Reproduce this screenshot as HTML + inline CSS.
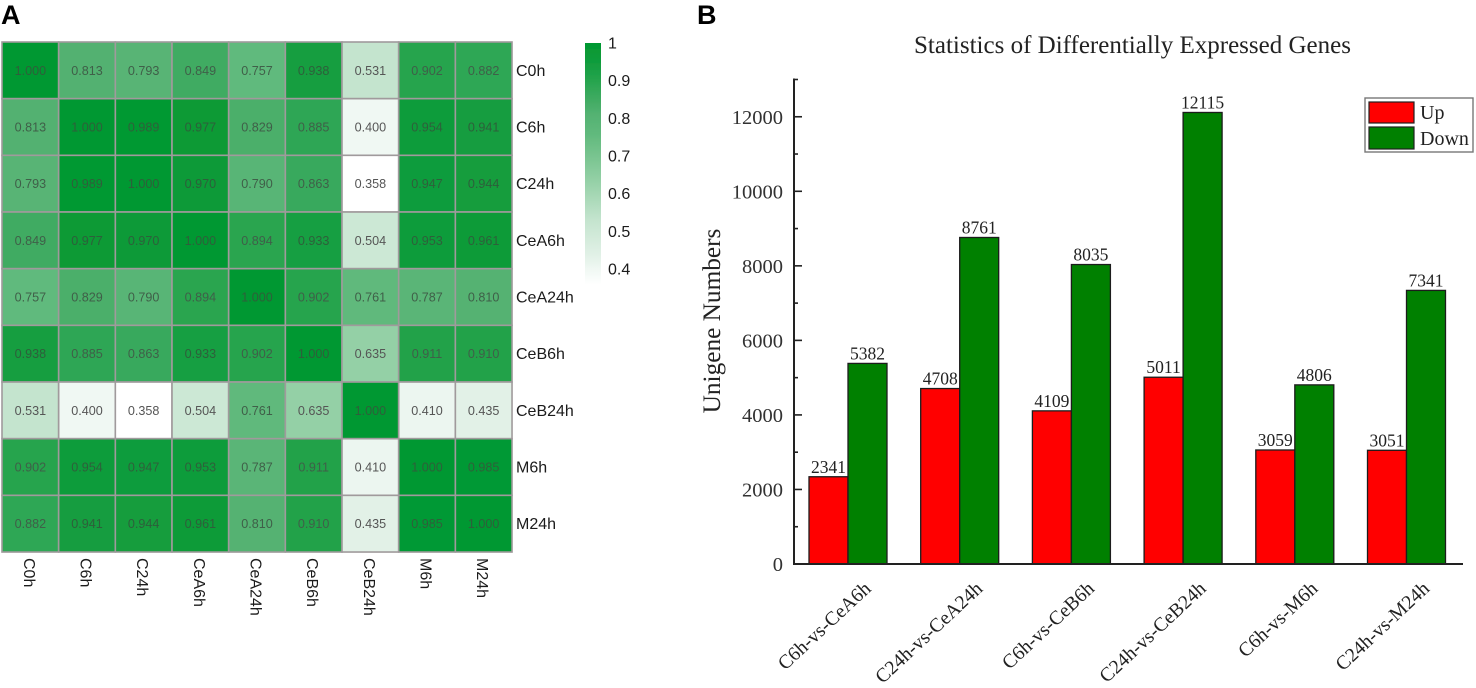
<!DOCTYPE html>
<html>
<head>
<meta charset="utf-8">
<title>Correlation heatmap and differentially expressed genes</title>
<style>
html,body{margin:0;padding:0;background:#fff;width:1476px;height:688px;overflow:hidden}
svg{display:block}
.sans{font-family:"Liberation Sans",sans-serif}
.serif{font-family:"Liberation Serif",serif}
</style>
</head>
<body>
<svg id="figure" width="1476" height="688" viewBox="0 0 1476 688" xmlns="http://www.w3.org/2000/svg">
  <defs>
    <linearGradient id="scale-gradient" x1="0" y1="0" x2="0" y2="1"></linearGradient>
    <filter id="soft" x="-2%" y="-2%" width="104%" height="104%"><feGaussianBlur stdDeviation="0.35"/></filter>
  </defs>
  <rect width="1476" height="688" fill="#fff"/>
  <g filter="url(#soft)">
    <text x="1" y="24" class="sans" font-size="27" font-weight="bold" fill="#000">A</text>
    <text x="697" y="24" class="sans" font-size="27" font-weight="bold" fill="#000">B</text>
    <g id="heatmap"></g>
    <g id="colorbar"></g>
    <g id="barchart"></g>
  </g>
</svg>
<script>
// Heatmap data
const sampleNames = ["C0h","C6h","C24h","CeA6h","CeA24h","CeB6h","CeB24h","M6h","M24h"];
const rowC0h   = [1.000,0.813,0.793,0.849,0.757,0.938,0.531,0.902,0.882];
const rowC6h   = [0.813,1.000,0.989,0.977,0.829,0.885,0.400,0.954,0.941];
const rowC24h  = [0.793,0.989,1.000,0.970,0.790,0.863,0.358,0.947,0.944];
const rowCeA6h = [0.849,0.977,0.970,1.000,0.894,0.933,0.504,0.953,0.961];
const rowCeA24h= [0.757,0.829,0.790,0.894,1.000,0.902,0.761,0.787,0.810];
const rowCeB6h = [0.938,0.885,0.863,0.933,0.902,1.000,0.635,0.911,0.910];
const rowCeB24h= [0.531,0.400,0.358,0.504,0.761,0.635,1.000,0.410,0.435];
const rowM6h   = [0.902,0.954,0.947,0.953,0.787,0.911,0.410,1.000,0.985];
const rowM24h  = [0.882,0.941,0.944,0.961,0.810,0.910,0.435,0.985,1.000];
const correlationRows = [rowC0h,rowC6h,rowC24h,rowCeA6h,rowCeA24h,rowCeB6h,rowCeB24h,rowM6h,rowM24h];
const scaleTicks = [1,0.9,0.8,0.7,0.6,0.5,0.4];

// Bar chart data
const comparisons = ["C6h-vs-CeA6h","C24h-vs-CeA24h","C6h-vs-CeB6h","C24h-vs-CeB24h","C6h-vs-M6h","C24h-vs-M24h"];
const upValues = [2341,4708,4109,5011,3059,3051];
const downValues = [5382,8761,8035,12115,4806,7341];
const yTickLabels = [0,2000,4000,6000,8000,10000,12000];
const yMinorTicks = [1000,3000,5000,7000,9000,11000,13000];

const NS = "http://www.w3.org/2000/svg";
function mk(parent, tag, attrs, txt){
  const e = document.createElementNS(NS, tag);
  for (const k in attrs) e.setAttribute(k, attrs[k]);
  if (txt !== undefined) e.textContent = txt;
  parent.appendChild(e);
  return e;
}

// Colour scale function (value -> colour)
const ramp = [
  [0.358,255,255,255],[0.40,240,248,243],[0.435,226,241,231],[0.53,196,228,206],
  [0.635,148,208,166],[0.70,120,196,143],[0.76,96,185,124],[0.81,84,178,114],
  [0.85,64,171,98],[0.90,38,164,78],[0.95,16,156,60],[1.0,2,152,48]
];
function colorOf(v){
  if (v <= ramp[0][0]) return "rgb(255,255,255)";
  for (let i = 1; i < ramp.length; i++){
    if (v <= ramp[i][0]){
      const a = ramp[i-1], b = ramp[i], t = (v-a[0])/(b[0]-a[0]);
      return "rgb("+[1,2,3].map(c => Math.round(a[c]+(b[c]-a[c])*t)).join(",")+")";
    }
  }
  return "rgb(2,152,48)";
}

// Heatmap
const hm = document.getElementById("heatmap");
const hmLeft = 2, hmTop = 42, cellW = 56.67, cellH = 56.67;
const cellX = i => hmLeft + i*cellW;
const cellY = i => hmTop + i*cellH;
correlationRows.forEach((row, r) => {
  row.forEach((v, c) => {
    const rect = mk(hm, "rect", {x:cellX(c), y:cellY(r), width:cellW, height:cellH, fill:colorOf(v), stroke:"#a09a9c", "stroke-width":1.6});
    
    
    const label = mk(hm, "text", {x:cellX(c)+cellW/2, y:cellY(r)+cellH/2+4.5, "text-anchor":"middle", "font-size":12.6, fill: v > 0.93 ? "#2f5f3a" : (v > 0.7 ? "#3f5f48" : "#555"), class:"sans"}, v.toFixed(3));
    
    
  });
});
sampleNames.forEach((n, i) => {
  const rowLabel = mk(hm, "text", {x:516, y:cellY(i)+cellH/2+5.5, "font-size":16, fill:"#1a1a1a", class:"sans"}, n);
  
  
  const cx = cellX(i)+cellW/2 - 6.5;
  const colLabel = mk(hm, "text", {x:0, y:0, transform:"translate("+cx+",558) rotate(90)", "font-size":16, fill:"#1a1a1a", class:"sans"}, n);
  
  
});

// Colour bar
const grad = document.getElementById("scale-gradient");
const scaleTop = 43, scalePerUnit = 376.5;
const scaleY = v => scaleTop + (1-v)*scalePerUnit;
const scaleMin = 0.358;
for (let i = ramp.length-1; i >= 0; i--){
  mk(grad, "stop", {offset:((1-ramp[i][0])/(1-scaleMin)).toFixed(3), "stop-color":colorOf(ramp[i][0])});
}
const cb = document.getElementById("colorbar");
const cbRect = mk(cb, "rect", {x:585, y:scaleTop, width:16, height:scaleY(scaleMin)-scaleTop, fill:"url(#scale-gradient)"});


scaleTicks.forEach(t => {
  const lbl = mk(cb, "text", {x:608, y:scaleY(t)+5.5, "font-size":16, fill:"#1a1a1a", class:"sans"}, String(t));
  
  
});

// Bar chart
const bc = document.getElementById("barchart");
const y0 = 564, yPerUnit = 0.03727;
const yScale = v => y0 - v*yPerUnit;
const axisX = 794, firstBar = 809, groupStep = 111.7, barW = 39;
const groupX = i => firstBar + i*groupStep;

const title = mk(bc, "text", {x:1132.5, y:53, "text-anchor":"middle", "font-size":25, fill:"#222", class:"serif"}, "Statistics of Differentially Expressed Genes");


const yTitle = mk(bc, "text", {x:0, y:0, transform:"translate(720,321) rotate(-90)", "text-anchor":"middle", "font-size":25.3, fill:"#222", class:"serif"}, "Unigene Numbers");



function drawBar(x, v, fill, name){
  const bar = mk(bc, "rect", {x:x, y:yScale(v), width:barW, height:y0-yScale(v), fill:fill, stroke:"#1a1a1a", "stroke-width":1.3});
  
  
  const lbl = mk(bc, "text", {x:x+barW/2, y:yScale(v)-4, "text-anchor":"middle", "font-size":17.5, fill:"#222", class:"serif"}, String(v));
  
  
}
comparisons.forEach((name, i) => {
  drawBar(groupX(i), upValues[i], "#ff0000", "bar-up");
  drawBar(groupX(i)+barW, downValues[i], "#008000", "bar-down");
  const cx = groupX(i)+barW;
  const lbl = mk(bc, "text", {x:0, y:0, transform:"translate("+(cx+24)+",590) rotate(-43)", "text-anchor":"end", "font-size":19.6, fill:"#222", class:"serif"}, name);
  
  
});

const yAxis = mk(bc, "line", {x1:axisX, x2:axisX, y1:yScale(13000)-1, y2:y0+1, stroke:"#222", "stroke-width":2});


const xAxis = mk(bc, "line", {x1:axisX-1, x2:1463, y1:y0, y2:y0, stroke:"#222", "stroke-width":2});


yTickLabels.forEach(t => {
  const tick = mk(bc, "line", {x1:axisX, x2:802, y1:yScale(t), y2:yScale(t), stroke:"#222", "stroke-width":1.6});
  
  
  const lbl = mk(bc, "text", {x:783, y:yScale(t)+7, "text-anchor":"end", "font-size":20.5, fill:"#333", class:"serif"}, String(t));
  
  
});
yMinorTicks.forEach(t => {
  const tick = mk(bc, "line", {x1:axisX, x2:798, y1:yScale(t), y2:yScale(t), stroke:"#222", "stroke-width":1.6});
  
  
});

// Legend
const legend = mk(bc, "g", {});


const legendBox = mk(legend, "rect", {x:1365, y:98, width:108, height:54, fill:"#fff", stroke:"#777", "stroke-width":1.4});


const upSwatch = mk(legend, "rect", {x:1369, y:102, width:45, height:21, fill:"#ff0000", stroke:"#222", "stroke-width":1.2});


const downSwatch = mk(legend, "rect", {x:1369, y:127, width:45, height:22, fill:"#008000", stroke:"#222", "stroke-width":1.2});


const upText = mk(legend, "text", {x:1420, y:119, "font-size":20, fill:"#222", class:"serif"}, "Up");


const downText = mk(legend, "text", {x:1420, y:145, "font-size":20, fill:"#222", class:"serif"}, "Down");


</script>
</body>
</html>
